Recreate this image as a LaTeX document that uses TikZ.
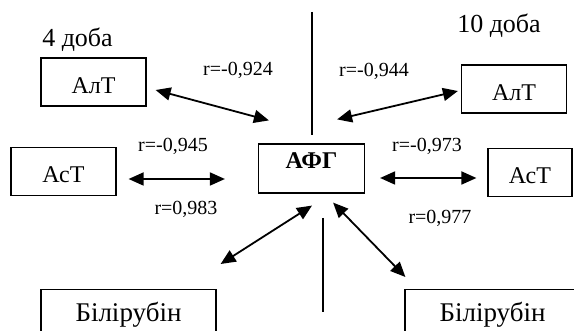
\documentclass[tikz,border=0pt]{standalone}
\usepackage{fontspec}
\setmainfont{Liberation Serif}
\usetikzlibrary{arrows.meta}

\tikzset{
	box/.style    = {draw, line width=1.2pt, inner sep=0pt, minimum width=105pt, minimum height=48pt,
	                 font=\fontsize{24}{28}\selectfont, text height=23pt, text depth=0pt},
	bilbox/.style = {draw, line width=1.2pt, anchor=north, inner xsep=0pt, inner ysep=4pt,
	                 minimum width=175pt, minimum height=70pt,
	                 font=\fontsize{27}{30}\selectfont, text height=24pt, text depth=30pt},
	rval/.style   = {anchor=base, inner sep=0pt, font=\fontsize{20}{24}\selectfont},
	day/.style    = {anchor=base, inner sep=0pt, font=\fontsize{26}{30}\selectfont},
	arr/.style    = {{Triangle[length=15pt, width=13pt]}-{Triangle[length=15pt, width=13pt]}, line width=1.8pt}
}

\begin{document}
\begin{tikzpicture}[x=1pt, y=-1pt]
	\useasboundingbox (0,0) rectangle (574,331);
	
	% vakken
	\node[box] (alt4)  at (93.5,82)   {АлТ};
	\node[box] (ast4)  at (63.5,171.5) {АсТ};
	\node[box] (alt10) at (514,89)    {АлТ};
	\node[box, minimum width=84pt] (ast10) at (530,172.5) {АсТ};
	\node[box, minimum width=106pt, minimum height=49pt, font=\fontsize{24}{28}\selectfont\bfseries,
	      text height=15pt, text depth=15pt] (afg) at (311.5,168.5) {АФГ};
	\node[bilbox] (bil4)  at (128.5,289) {Білірубін};
	\node[bilbox] (bil10) at (492.5,289) {Білірубін};
	
	% dagen
	\node[day] (d4)  at (77.5,47) {4 доба};
	\node[day] (d10) at (499,33)  {10 доба};
	
	% scheidingslijnen
	\draw[line width=1.2pt] (312,12)  -- (312,135);
	\draw[line width=1.2pt] (323,218) -- (323,312);
	
	% pijlen
	\draw[arr] ([shift={(9,8)}]alt4.east)        -- ([shift={(11,-23)}]afg.north west);
	\draw[arr] ([shift={(-3,2)}]alt10.west)      -- ([shift={(-28,-24)}]afg.north east);
	\draw[arr] ([shift={(12,7.5)}]ast4.east)     -- ([shift={(-33,10.5)}]afg.west);
	\draw[arr] ([shift={(-11,5.5)}]ast10.west)   -- ([shift={(15,9.5)}]afg.east);
	\draw[arr] ([shift={(4,-25)}]bil4.north east) -- ([shift={(0.5,12)}]afg.south);
	\draw[arr] ([shift={(1,-12)}]bil10.north west) -- ([shift={(-32,9)}]afg.south east);
	
	% correlaties
	\node[rval] (r1) at (238,76)  {r=-0,924};
	\node[rval] (r2) at (173,152) {r=-0,945};
	\node[rval] (r3) at (186,215) {r=0,983};
	\node[rval] (r4) at (374,77)  {r=-0,944};
	\node[rval] (r5) at (427,152) {r=-0,973};
	\node[rval] (r6) at (440,224) {r=0,977};
\end{tikzpicture}
\end{document}
